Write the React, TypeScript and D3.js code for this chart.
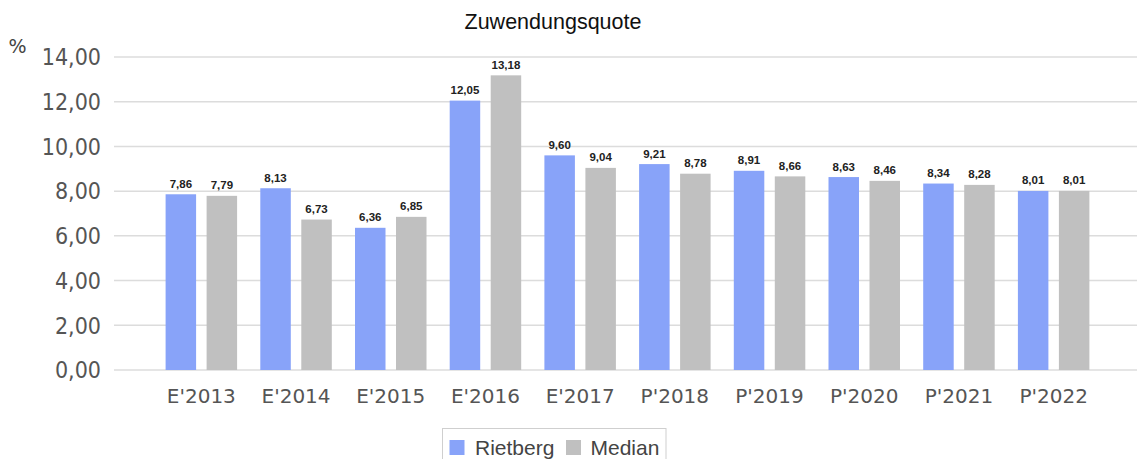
import React from 'react';
import * as d3 from 'd3';

const categories = ["E'2013", "E'2014", "E'2015", "E'2016", "E'2017", "P'2018", "P'2019", "P'2020", "P'2021", "P'2022"];
const seriesNames = ['Rietberg', 'Median'];
const rietberg = [7.86, 8.13, 6.36, 12.05, 9.6, 9.21, 8.91, 8.63, 8.34, 8.01];
const median = [7.79, 6.73, 6.85, 13.18, 9.04, 8.78, 8.66, 8.46, 8.28, 8.01];
const yTicks = [0, 2, 4, 6, 8, 10, 12, 14];
const colors = ['#88a3f9', '#c0c0c0'];

const W = 1137;
const H = 459;
const fmt = (v: number) => v.toFixed(2).replace('.', ',');

export default function App() {
  const values = [rietberg, median];
  const x0 = d3.scaleBand<string>().domain(categories).range([154, 1101]).padding(0);
  const groupW = 71.5;
  const x1 = d3.scaleBand<string>().domain(seriesNames).range([0, groupW]).paddingInner(0.256).paddingOuter(0);
  const y = d3.scaleLinear().domain([0, 14]).range([370, 57]);
  const legendX = [449.5, 566];
  const legendTextX = [475, 590.5];

  return (
    <div style={{ position: 'absolute', left: 0, top: 0 }}>
      <svg width={W} height={H} style={{ display: 'block' }}>
        <rect width={W} height={H} fill="#fff" />
        <text x={553} y={29} textAnchor="middle" fontFamily="Liberation Sans, Arial" fontSize={21.5} fill="#111">
          Zuwendungsquote
        </text>
        <text x={17.5} y={52.5} textAnchor="middle" fontFamily="DejaVu Sans" fontSize={19} fill="#444">%</text>

        {yTicks.map(t => (
          <g key={t}>
            <line x1={114} x2={W} y1={y(t)} y2={y(t)} stroke="#dcdcdc" strokeWidth={1.5} />
            <text x={101} y={y(t)} dy="0.36em" textAnchor="end" fontFamily="DejaVu Sans Condensed, DejaVu Sans"
              fontStretch="condensed" fontSize={23} fill="#555">
              {fmt(t)}
            </text>
          </g>
        ))}

        {categories.map((c, i) => {
          const gx = (x0(c) as number) + x0.bandwidth() / 2 - groupW / 2;
          return (
            <g key={c}>
              {seriesNames.map((s, j) => {
                const v = values[j][i];
                const bx = gx + (x1(s) as number);
                return (
                  <g key={s}>
                    <rect x={bx} y={y(v)} width={x1.bandwidth()} height={y(0) - y(v)} fill={colors[j]} />
                    <text x={bx + x1.bandwidth() / 2} y={y(v) - 6.5} textAnchor="middle"
                      fontFamily="Liberation Sans, Arial" fontSize={11.5} fontWeight={600} fill="#222">
                      {fmt(v)}
                    </text>
                  </g>
                );
              })}
              <text x={(x0(c) as number) + x0.bandwidth() / 2} y={402.5} textAnchor="middle"
                fontFamily="DejaVu Sans" fontSize={20} fill="#555">
                {c}
              </text>
            </g>
          );
        })}

        <rect x={442.5} y={428.5} width={223.5} height={40} fill="#fff" stroke="#cfcfcf" />
        {seriesNames.map((s, j) => (
          <g key={s}>
            <rect x={legendX[j]} y={440} width={15} height={15} fill={colors[j]} />
            <text x={legendTextX[j]} y={455} fontFamily="Liberation Sans, Arial" fontSize={21} fill="#444">{s}</text>
          </g>
        ))}
      </svg>
    </div>
  );
}
